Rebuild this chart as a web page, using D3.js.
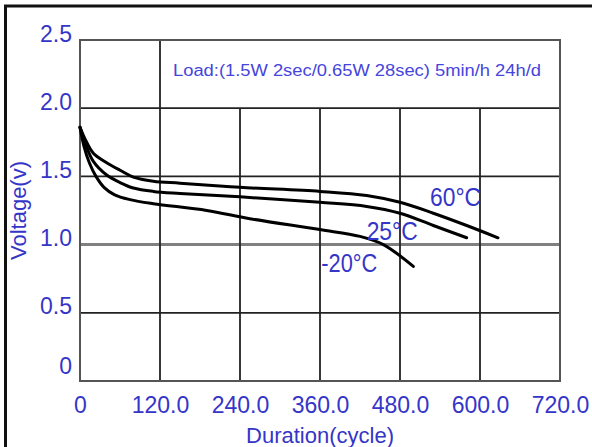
<!DOCTYPE html>
<html>
<head>
<meta charset="utf-8">
<script src="https://cdn.jsdelivr.net/npm/d3@7/dist/d3.min.js"></script>
<style>
  html, body { margin: 0; padding: 0; background: #ffffff; }
  svg { display: block; }
  text { font-family: "Liberation Sans", Arial, sans-serif; }
</style>
</head>
<body>
<svg id="chart" width="592" height="447"></svg>
<script>
// ---- data ----
const xTickValues = [0, 120, 240, 360, 480, 600, 720];
const xTickLabels = ["0", "120.0", "240.0", "360.0", "480.0", "600.0", "720.0"];
const yTickValues = [0, 0.5, 1.0, 1.5, 2.0, 2.5];
const yTickLabels = ["0", "0.5", "1.0", "1.5", "2.0", "2.5"];

const seriesNames = ["60°C", "25°C", "-20°C"];
const cycles60 = [0, 8, 20, 40, 60, 80, 110, 150, 240, 360, 430, 480, 530, 580, 627];
const volts60  = [1.86, 1.77, 1.67, 1.60, 1.545, 1.495, 1.465, 1.45, 1.42, 1.39, 1.36, 1.31, 1.23, 1.14, 1.05];
const cycles25 = [0, 8, 20, 40, 60, 80, 110, 150, 240, 360, 430, 480, 530, 580];
const volts25  = [1.86, 1.74, 1.61, 1.51, 1.455, 1.415, 1.39, 1.375, 1.35, 1.31, 1.28, 1.23, 1.14, 1.05];
const cyclesM20 = [0, 6, 14, 24, 36, 52, 75, 110, 190, 255, 360, 420, 455, 500];
const voltsM20  = [1.86, 1.72, 1.60, 1.50, 1.42, 1.365, 1.33, 1.30, 1.25, 1.19, 1.11, 1.06, 1.00, 0.84];
const loadNote = "Load:(1.5W 2sec/0.65W 28sec) 5min/h 24h/d";
const xTitle = "Duration(cycle)";
const yTitle = "Voltage(v)";

// ---- drawing ----
const svg = d3.select("#chart");
const blue = "#3535c8";
const x = d3.scaleLinear().domain([0, 720]).range([80, 560]);
const y = d3.scaleLinear().domain([0, 2.5]).range([381, 40]);

// outer frame
svg.append("line").attr("x1", 4).attr("x2", 592).attr("y1", 6).attr("y2", 6)
  .attr("stroke", "#111").attr("stroke-width", 3);
svg.append("line").attr("x1", 5.5).attr("x2", 5.5).attr("y1", 5).attr("y2", 447)
  .attr("stroke", "#111").attr("stroke-width", 3);

// horizontal grid lines
const g = svg.append("g");
yTickValues.filter(v => v > 0 && v < 2.5).forEach(v => {
  g.append("line").attr("x1", x(0)).attr("x2", x(720))
    .attr("y1", y(v)).attr("y2", y(v))
    .attr("stroke", v === 1.0 ? "#808080" : "#222")
    .attr("stroke-width", v === 1.0 ? 3 : 1.8);
});
// vertical grid lines
xTickValues.filter(v => v > 0 && v < 720).forEach(v => {
  g.append("line").attr("x1", x(v)).attr("x2", x(v))
    .attr("y1", v === 120 ? y(2.5) : y(2.0)).attr("y2", y(0))
    .attr("stroke", "#222").attr("stroke-width", 1.8);
});
// plot border
g.append("rect").attr("x", x(0)).attr("y", y(2.5))
  .attr("width", x(720) - x(0)).attr("height", y(0) - y(2.5))
  .attr("fill", "none").attr("stroke", "#555").attr("stroke-width", 2);

// axes (labels only)
const xAxis = d3.axisBottom(x).tickValues(xTickValues)
  .tickFormat((d, i) => xTickLabels[i]).tickSize(0).tickPadding(0);
const gx = svg.append("g").attr("transform", `translate(0,${y(0)})`).call(xAxis);
gx.select(".domain").remove();
gx.selectAll("text").attr("fill", blue).attr("font-size", 23)
  .attr("dy", null).attr("y", 32);

const yAxis = d3.axisLeft(y).tickValues(yTickValues)
  .tickFormat((d, i) => yTickLabels[i]).tickSize(0).tickPadding(0);
const gy = svg.append("g").attr("transform", `translate(${x(0)},0)`).call(yAxis);
gy.select(".domain").remove();
gy.selectAll("text").attr("fill", blue).attr("font-size", 23)
  .attr("x", -8).attr("dy", null)
  .attr("y", d => d === 0 ? -8 : 1);

// axis titles
svg.append("text").attr("x", x(360)).attr("y", 443)
  .attr("text-anchor", "middle").attr("fill", blue).attr("font-size", 22)
  .text(xTitle);
svg.append("text").attr("transform", `translate(26,${y(1.25)}) rotate(-90)`)
  .attr("text-anchor", "middle").attr("fill", blue).attr("font-size", 22)
  .text(yTitle);

// load note
svg.append("text").attr("x", 173).attr("y", 76)
  .attr("fill", "#4545dd").attr("font-size", 16)
  .attr("textLength", 368).attr("lengthAdjust", "spacingAndGlyphs")
  .text(loadNote);

// curves
const line = d3.line().x(d => x(d[0])).y(d => y(d[1])).curve(d3.curveCatmullRom.alpha(0.5));
const series = [
  d3.zip(cycles60, volts60),
  d3.zip(cycles25, volts25),
  d3.zip(cyclesM20, voltsM20)
];
svg.append("g").selectAll("path").data(series).join("path")
  .attr("d", line).attr("fill", "none")
  .attr("stroke", "#000").attr("stroke-width", 3).attr("stroke-linecap", "round");

// series labels (placed near curve ends in data space)
const labelPos = [[525, 1.28], [430, 1.035], [362, 0.80]];
seriesNames.forEach((n, i) => {
  svg.append("text").attr("x", x(labelPos[i][0])).attr("y", y(labelPos[i][1]))
    .attr("fill", blue).attr("font-size", 26)
    .attr("textLength", n.length === 4 ? 51 : 56).attr("lengthAdjust", "spacingAndGlyphs")
    .text(n);
});
</script>
</body>
</html>
